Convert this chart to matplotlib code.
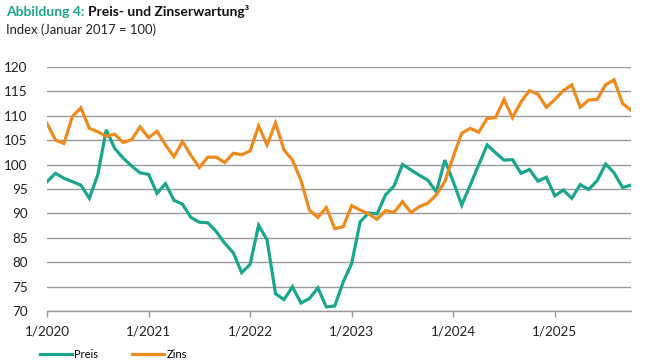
import matplotlib.pyplot as plt
from matplotlib.lines import Line2D

# monthly index values, Jan 2020 .. Oct 2025
preis = [96.5, 98.2, 97.2, 96.5, 95.8, 93.1, 97.9, 107.1, 103.3, 101.3, 99.7, 98.3,
         98.0, 94.1, 96.1, 92.7, 91.9, 89.2, 88.2, 88.1, 86.3, 83.9, 82.0, 77.9,
         79.6, 87.6, 84.6, 73.6, 72.4, 75.0, 71.7, 72.6, 74.8, 70.9, 71.1, 76.0,
         79.8, 88.3, 90.1, 89.9, 93.8, 95.6, 100.0, 98.9, 97.8, 96.8, 94.4, 100.9,
         96.5, 91.7, 95.8, 99.9, 104.0, 102.4, 100.9, 101.0, 98.2, 99.0, 96.6, 97.4,
         93.6, 94.8, 93.1, 95.9, 94.9, 96.7, 100.1, 98.3, 95.3, 95.8]
zins = [108.4, 105.0, 104.3, 109.8, 111.6, 107.4, 106.7, 105.8, 106.2, 104.5, 105.1, 107.7,
        105.5, 106.8, 104.0, 101.6, 104.7, 101.9, 99.4, 101.5, 101.5, 100.4, 102.3, 102.0,
        102.8, 107.9, 104.0, 108.5, 103.0, 100.9, 96.8, 90.7, 89.2, 91.2, 86.9, 87.3,
        91.6, 90.7, 89.9, 88.8, 90.6, 90.2, 92.4, 90.2, 91.4, 92.1, 93.8, 96.5,
        101.6, 106.4, 107.4, 106.6, 109.4, 109.6, 113.3, 109.6, 112.8, 115.1, 114.4, 111.7,
        113.3, 115.1, 116.3, 111.7, 113.2, 113.3, 116.3, 117.3, 112.5, 111.1]
tick_labels = ['1/2020', '1/2021', '1/2022', '1/2023', '1/2024', '1/2025']
y_ticks = [70, 75, 80, 85, 90, 95, 100, 105, 110, 115, 120]

teal = '#1aa68d'
orange = '#ef8a1d'
grid_col = '#9a9a9a'

plt.rcParams['font.family'] = ['Lato', 'DejaVu Sans']

fig = plt.figure(figsize=(6.55, 3.64), dpi=100)
ax = fig.add_axes([47 / 655, 1 - 311.3 / 364, (631 - 47) / 655, (311.3 - 66.7) / 364])

months = list(range(len(preis)))
ax.plot(months, preis, color=teal, lw=2.3, solid_joinstyle='miter', zorder=3)
ax.plot(months, zins, color=orange, lw=2.3, solid_joinstyle='miter', zorder=4)

ax.set_xlim(0, len(preis) - 1)
ax.set_ylim(70, 120)
ax.set_yticks(y_ticks)
ax.set_xticks([12 * i for i in range(len(tick_labels))])
ax.set_xticklabels(tick_labels)
ax.yaxis.grid(True, color=grid_col, lw=1.0)
ax.set_axisbelow(True)
for s in ['left', 'right', 'top']:
    ax.spines[s].set_visible(False)
ax.spines['bottom'].set_color(grid_col)
ax.spines['bottom'].set_linewidth(1.0)
ax.tick_params(axis='y', length=0, pad=14, labelsize=9.7, labelcolor='#222222')
ax.tick_params(axis='x', length=4, width=1, color=grid_col, pad=6, labelsize=9.7,
               labelcolor='#222222')

# title in two colours
t1 = fig.text(6 / 655, 1 - 12 / 364, 'Abbildung 4:', color=teal, fontsize=10,
              fontweight='bold', va='center')
r = fig.canvas.get_renderer()
bb = t1.get_window_extent(r)
fig.text((bb.x1 + 4) / 655, 1 - 12 / 364, 'Preis- und Zinserwartung³', color='#111111',
         fontsize=10, fontweight='bold', va='center')
fig.text(6 / 655, 1 - 30 / 364, 'Index (Januar 2017 = 100)', color='#222222',
         fontsize=9.4, va='center')

handles = [Line2D([], [], color=teal, lw=2.3), Line2D([], [], color=orange, lw=2.3)]
fig.legend(handles, ['Preis', 'Zins'], loc='center left', bbox_to_anchor=(40 / 655, 1 - 354 / 364),
           ncol=2, frameon=False, fontsize=8, handlelength=2.9, handletextpad=0.2,
           columnspacing=3.0, borderaxespad=0, borderpad=0)

fig.savefig('out.png', dpi=100)
